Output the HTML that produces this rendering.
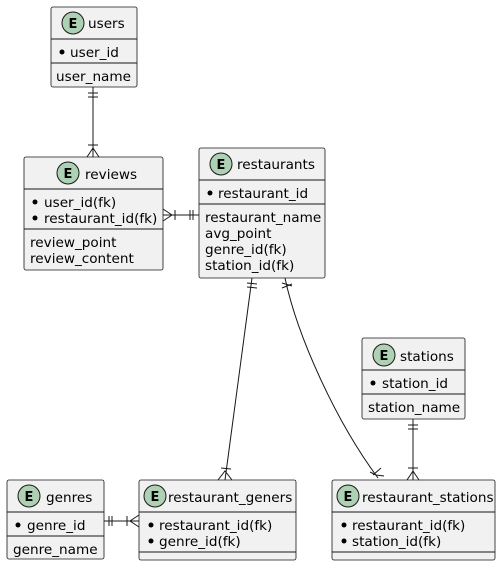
<!DOCTYPE html>
<html><head><meta charset="utf-8"><style>
body{margin:0;background:#fff;}
svg{display:block;}
text{font-family:"DejaVu Sans","Liberation Sans",sans-serif;font-size:13.6px;fill:#000;}
.b{fill:#F1F1F1;stroke:#181818;stroke-width:0.8;}
.l{stroke:#181818;stroke-width:1;fill:none;}
.c{fill:#ADD1B2;stroke:#181818;stroke-width:1;}
.e{font-weight:bold;font-size:13px;text-anchor:middle;}
</style></head><body>
<svg width="501" height="566" viewBox="0 0 501 566" xmlns="http://www.w3.org/2000/svg">
<!-- users -->
<rect class="b" x="51" y="7" width="86" height="80" rx="2"/>
<circle class="c" cx="73" cy="23" r="11"/><text class="e" x="73" y="28">E</text>
<text x="88" y="28">users</text>
<line class="l" x1="51" y1="39" x2="137" y2="39"/>
<circle cx="62" cy="52" r="2.5" fill="#000"/><text x="70" y="57">user_id</text>
<line class="l" x1="51" y1="63" x2="137" y2="63"/>
<text x="56" y="81">user_name</text>
<!-- reviews -->
<rect class="b" x="24" y="157" width="139" height="113" rx="2"/>
<circle class="c" cx="68" cy="173" r="11"/><text class="e" x="68" y="178">E</text>
<text x="85" y="179">reviews</text>
<line class="l" x1="24" y1="189" x2="163" y2="189"/>
<circle cx="35" cy="202" r="2.5" fill="#000"/><text x="44" y="207">user_id(fk)</text>
<circle cx="35" cy="218" r="2.5" fill="#000"/><text x="44" y="223">restaurant_id(fk)</text>
<line class="l" x1="24" y1="229" x2="163" y2="229"/>
<text x="30" y="247">review_point</text>
<text x="30" y="263">review_content</text>
<!-- restaurants -->
<rect class="b" x="199" y="148" width="126" height="130" rx="2"/>
<circle class="c" cx="221" cy="164" r="11"/><text class="e" x="221" y="169">E</text>
<text x="237" y="169">restaurants</text>
<line class="l" x1="199" y1="180" x2="325" y2="180"/>
<circle cx="210" cy="193" r="2.5" fill="#000"/><text x="218" y="198">restaurant_id</text>
<line class="l" x1="199" y1="204" x2="325" y2="204"/>
<text x="205" y="222">restaurant_name</text>
<text x="205" y="238">avg_point</text>
<text x="205" y="254">genre_id(fk)</text>
<text x="205" y="270">station_id(fk)</text>
<!-- stations -->
<rect class="b" x="362" y="338" width="103" height="81" rx="2"/>
<circle class="c" cx="384" cy="355" r="11"/><text class="e" x="384" y="360">E</text>
<text x="400" y="361">stations</text>
<line class="l" x1="362" y1="370" x2="465" y2="370"/>
<circle cx="373" cy="383" r="2.5" fill="#000"/><text x="382" y="388">station_id</text>
<line class="l" x1="362" y1="394" x2="465" y2="394"/>
<text x="368" y="412">station_name</text>
<!-- genres -->
<rect class="b" x="7" y="480" width="97" height="79" rx="2"/>
<circle class="c" cx="29" cy="496" r="11"/><text class="e" x="29" y="501">E</text>
<text x="46" y="502">genres</text>
<line class="l" x1="7" y1="512" x2="104" y2="512"/>
<circle cx="18" cy="525" r="2.5" fill="#000"/><text x="27" y="530">genre_id</text>
<line class="l" x1="7" y1="536" x2="104" y2="536"/>
<text x="13" y="554">genre_name</text>
<!-- restaurant_geners -->
<rect class="b" x="139" y="480" width="157" height="80" rx="2"/>
<circle class="c" cx="155" cy="496" r="11"/><text class="e" x="155" y="501">E</text>
<text x="168" y="502">restaurant_geners</text>
<line class="l" x1="139" y1="512" x2="296" y2="512"/>
<circle cx="151" cy="525" r="2.5" fill="#000"/><text x="159" y="530">restaurant_id(fk)</text>
<circle cx="151" cy="541" r="2.5" fill="#000"/><text x="159" y="546">genre_id(fk)</text>
<line class="l" x1="139" y1="552" x2="296" y2="552"/>
<!-- restaurant_stations -->
<rect class="b" x="332" y="480" width="163" height="80" rx="2"/>
<circle class="c" cx="348" cy="496" r="11"/><text class="e" x="348" y="501">E</text>
<text x="362" y="502">restaurant_stations</text>
<line class="l" x1="332" y1="512" x2="495" y2="512"/>
<circle cx="344" cy="525" r="2.5" fill="#000"/><text x="352" y="530">restaurant_id(fk)</text>
<circle cx="344" cy="541" r="2.5" fill="#000"/><text x="352" y="546">station_id(fk)</text>
<line class="l" x1="332" y1="552" x2="495" y2="552"/>
<!-- connectors -->
<line class="l" x1="93" y1="87" x2="93" y2="157"/>
<line class="l" x1="88" y1="93" x2="98" y2="93"/><line class="l" x1="88" y1="97" x2="98" y2="97"/>
<line class="l" x1="88" y1="145" x2="98" y2="145"/>
<path class="l" d="M87,157 L93,148 L99,157"/>
<line class="l" x1="163" y1="215" x2="199" y2="215"/>
<path class="l" d="M163,209 L172,215 L163,221"/>
<line class="l" x1="175" y1="210" x2="175" y2="220"/>
<line class="l" x1="190" y1="210" x2="190" y2="220"/><line class="l" x1="193" y1="210" x2="193" y2="220"/>
<line class="l" x1="252" y1="278" x2="225" y2="480"/>
<line class="l" x1="247" y1="283" x2="257" y2="284"/><line class="l" x1="247" y1="287" x2="257" y2="288"/>
<line class="l" x1="221" y1="468" x2="231" y2="469"/>
<path class="l" d="M218,480 L225,471 L232,480"/>
<path class="l" d="M285,278 C297,335 335,420 378,478"/>
<line class="l" x1="282" y1="283" x2="292" y2="286"/><line class="l" x1="282" y1="288" x2="292" y2="284"/>
<line class="l" x1="373" y1="475" x2="381" y2="468"/>
<path class="l" d="M370,472 L376,475 L384,476"/>
<line class="l" x1="413" y1="419" x2="413" y2="480"/>
<line class="l" x1="408" y1="425" x2="418" y2="425"/><line class="l" x1="408" y1="429" x2="418" y2="429"/>
<line class="l" x1="408" y1="468" x2="418" y2="468"/>
<path class="l" d="M407,480 L413,471 L419,480"/>
<line class="l" x1="104" y1="521" x2="139" y2="521"/>
<line class="l" x1="109" y1="516" x2="109" y2="526"/><line class="l" x1="112" y1="516" x2="112" y2="526"/>
<line class="l" x1="127" y1="516" x2="127" y2="526"/>
<path class="l" d="M139,515 L130,521 L139,527"/>
</svg>
</body></html>
